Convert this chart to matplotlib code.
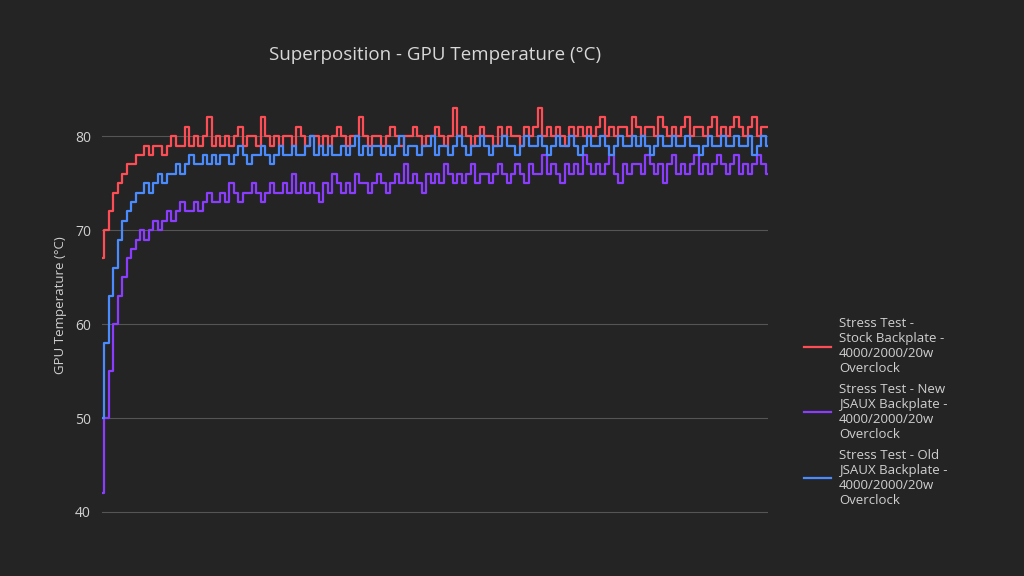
import matplotlib
matplotlib.use("Agg")
import matplotlib.pyplot as plt

plt.rcParams['font.family'] = ['Open Sans', 'DejaVu Sans']

stock = [67, 70, 72, 74, 75, 76, 77, 77, 78, 78,
         79, 78, 79, 79, 78, 79, 80, 79, 79, 81,
         79, 80, 79, 80, 82, 79, 80, 79, 80, 79,
         80, 81, 79, 80, 80, 79, 82, 80, 79, 80,
         79, 80, 80, 79, 81, 80, 79, 80, 80, 79,
         80, 79, 80, 81, 80, 79, 80, 80, 82, 80,
         79, 80, 80, 79, 80, 81, 80, 79, 80, 80,
         81, 80, 79, 80, 80, 81, 80, 79, 80, 83,
         80, 81, 80, 79, 80, 81, 80, 80, 79, 81,
         80, 81, 80, 80, 79, 81, 80, 81, 83, 80,
         81, 80, 81, 80, 79, 81, 80, 81, 80, 81,
         80, 81, 82, 80, 81, 80, 81, 81, 80, 82,
         81, 80, 81, 81, 80, 82, 81, 80, 81, 80,
         81, 82, 80, 81, 81, 80, 81, 82, 80, 81,
         80, 81, 82, 81, 80, 81, 82, 80, 81, 81]

new_jsaux = [42, 50, 55, 60, 63, 65, 67, 68, 69, 70,
             69, 70, 71, 70, 71, 72, 71, 72, 73, 72,
             72, 73, 72, 73, 74, 73, 73, 74, 73, 75,
             74, 73, 74, 74, 75, 74, 73, 74, 75, 74,
             74, 75, 74, 76, 74, 75, 74, 75, 74, 73,
             75, 74, 76, 75, 74, 75, 74, 76, 75, 75,
             74, 75, 76, 75, 74, 75, 76, 75, 77, 75,
             76, 75, 74, 76, 75, 76, 75, 77, 76, 75,
             76, 75, 76, 77, 75, 76, 76, 75, 76, 77,
             76, 75, 76, 77, 76, 75, 77, 76, 76, 78,
             76, 77, 76, 75, 77, 76, 77, 76, 78, 77,
             76, 77, 76, 77, 78, 76, 75, 77, 76, 77,
             77, 76, 78, 77, 76, 77, 75, 77, 78, 76,
             77, 76, 77, 78, 76, 77, 76, 77, 78, 77,
             76, 77, 78, 76, 77, 76, 77, 78, 77, 76]

old_jsaux = [50, 58, 63, 66, 69, 71, 72, 73, 74, 74,
             75, 74, 75, 76, 75, 76, 76, 77, 76, 77,
             78, 77, 77, 78, 77, 78, 77, 78, 78, 77,
             78, 79, 78, 77, 78, 78, 79, 78, 77, 78,
             79, 78, 78, 79, 78, 78, 79, 80, 78, 79,
             78, 79, 78, 78, 79, 78, 79, 80, 78, 79,
             78, 79, 79, 78, 79, 78, 79, 80, 78, 79,
             79, 78, 79, 79, 80, 78, 79, 79, 78, 79,
             80, 79, 78, 79, 79, 80, 79, 78, 79, 79,
             80, 79, 79, 78, 79, 80, 79, 79, 80, 79,
             78, 79, 80, 79, 79, 80, 79, 78, 79, 80,
             79, 79, 80, 79, 78, 79, 80, 79, 79, 80,
             79, 80, 79, 78, 79, 80, 79, 79, 80, 79,
             79, 80, 79, 79, 78, 79, 80, 79, 79, 80,
             79, 79, 80, 79, 79, 80, 78, 79, 80, 79]

labels = ["Stress Test -\nStock Backplate -\n4000/2000/20w\nOverclock",
          "Stress Test - New\nJSAUX Backplate -\n4000/2000/20w\nOverclock",
          "Stress Test - Old\nJSAUX Backplate -\n4000/2000/20w\nOverclock"]
colors = ["#ff4d55", "#8a3cff", "#4a8cff"]

bg = "#242424"
fig = plt.figure(figsize=(10.24, 5.76), dpi=100, facecolor=bg)
ax = fig.add_axes([0.0996, 0.103, 0.6504, 0.734], facecolor=bg)

for series, label, c in zip([stock, new_jsaux, old_jsaux], labels, colors):
    ax.step(range(len(series)), series, where="mid", color=c, lw=1.6, label=label)

ax.set_xlim(0, len(stock) - 1)
ax.set_ylim(39.5, 84.5)
ax.set_yticks([40, 50, 60, 70, 80])
ax.set_xticks([])
ax.grid(axis="y", color="#555555", lw=0.8)
ax.set_axisbelow(True)
for s in ax.spines.values():
    s.set_visible(False)
ax.tick_params(axis="y", colors="#d0d0d0", labelsize=10, length=0, pad=8)
ax.set_ylabel("GPU Temperature (°C)", color="#d0d0d0", fontsize=9.5, labelpad=6)

fig.text(0.425, 0.905, "Superposition - GPU Temperature (°C)", color="#d8d8d8",
         fontsize=13.5, ha="center", va="center")

leg = ax.legend(loc="upper left", bbox_to_anchor=(0.774, 0.47), bbox_transform=fig.transFigure,
                frameon=False, fontsize=9.5, labelcolor="#d0d0d0", labelspacing=0.6,
                handlelength=2.0, handletextpad=0.6)

fig.savefig("out.png", facecolor=bg)
